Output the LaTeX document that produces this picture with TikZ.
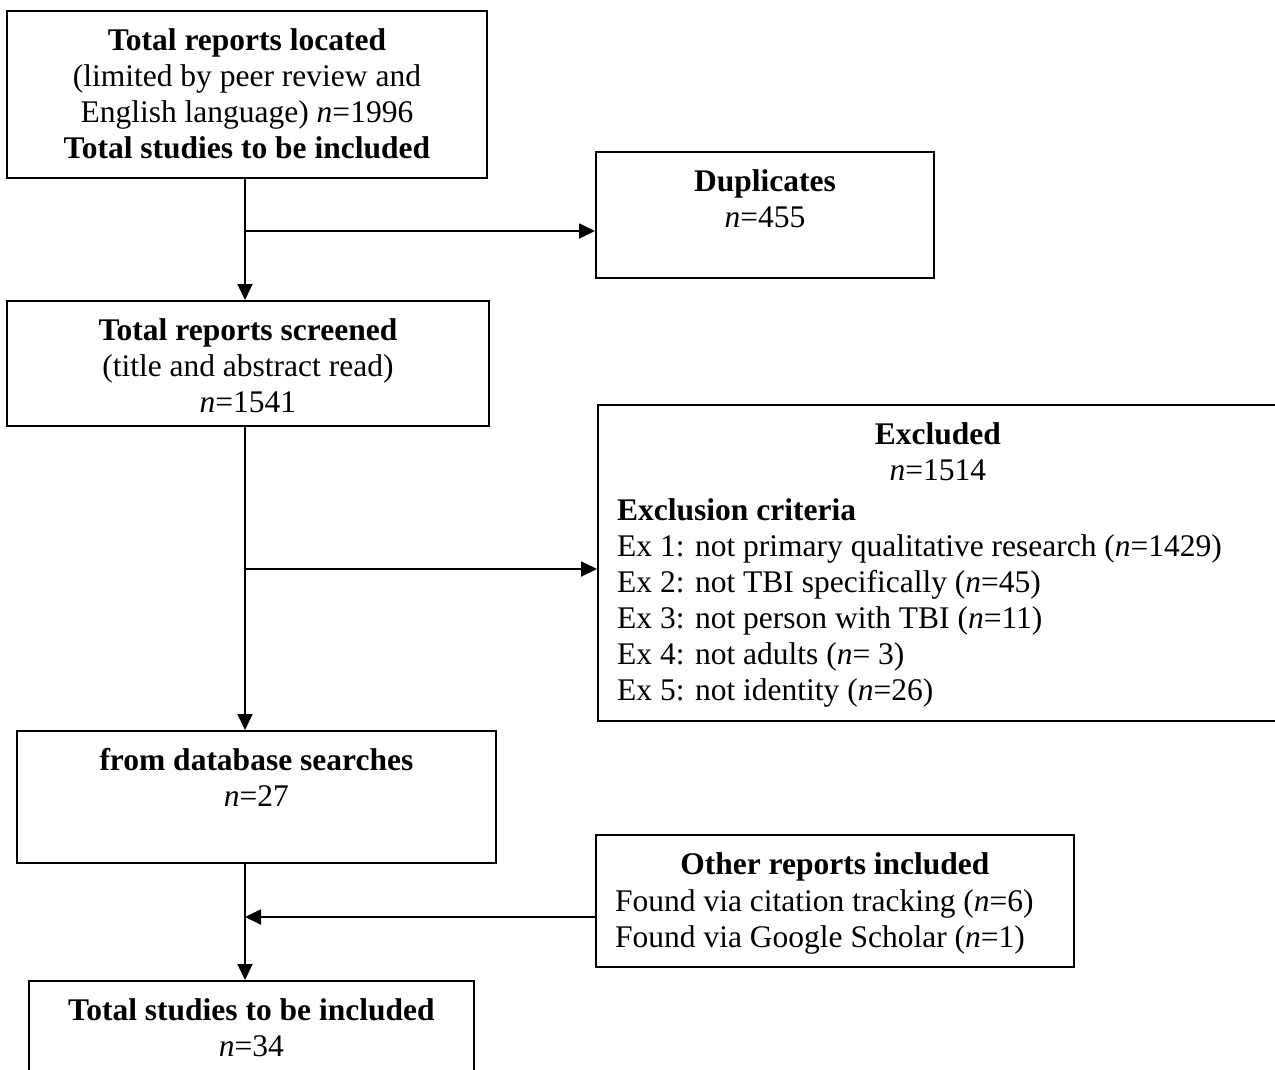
\documentclass[tikz,border=0pt]{standalone}
\usepackage{fontspec}
\setmainfont{Liberation Serif}
\usetikzlibrary{arrows.meta}
\begin{document}
\begin{tikzpicture}[x=1pt,y=-1pt,
 box/.style={draw, line width=1.8pt, anchor=north west, inner sep=0pt},
 txt/.style={inner sep=0pt, font=\fontsize{31.5}{36}\selectfont, align=center, anchor=north},
 ltxt/.style={txt, align=left, anchor=north west},
 arr/.style={line width=1.8pt, -{Triangle[length=16pt,width=15pt]}}]
\useasboundingbox (0,0) rectangle (1275,1069);
\fill[white] (0,0) rectangle (1275,1069);

\node[box, minimum width=480pt, minimum height=167pt] (b1) at (6,10) {};
\node[txt] (t1) at ([yshift=-14.8pt]b1.north) {\strut\textbf{Total reports located}\\(limited by peer review and\\English language) \textit{n}=1996\\\textbf{Total studies to be included}};

\node[box, minimum width=338pt, minimum height=126pt] (dup) at (595,151) {};
\node[txt] (tdup) at ([yshift=-14.8pt]dup.north) {\strut\textbf{Duplicates}\\\textit{n}=455};

\node[box, minimum width=482pt, minimum height=125pt] (b2) at (6,300) {};
\node[txt] (t2) at ([yshift=-14.8pt]b2.north) {\strut\textbf{Total reports screened}\\(title and abstract read)\\\textit{n}=1541};

\node[box, minimum width=680pt, minimum height=316pt] (exc) at (597,404) {};
\node[txt] (texc) at ([yshift=-14.8pt]exc.north) {\strut\textbf{Excluded}\\\textit{n}=1514};
\node[ltxt] (lexc) at (617,494.8) {\strut\textbf{Exclusion criteria}\\Ex 1: not primary qualitative research (\textit{n}=1429)\\Ex 2: not TBI specifically (\textit{n}=45)\\Ex 3: not person with TBI (\textit{n}=11)\\Ex 4: not adults (\textit{n}= 3)\\Ex 5: not identity (\textit{n}=26)};

\node[box, minimum width=479pt, minimum height=132pt] (db) at (16,730) {};
\node[txt] (tdb) at ([yshift=-14.8pt]db.north) {\strut\textbf{from database searches}\\\textit{n}=27};

\node[box, minimum width=478pt, minimum height=132pt] (oth) at (595,834) {};
\node[txt] (toth) at ([yshift=-14.8pt]oth.north) {\strut\textbf{Other reports included}};
\node[ltxt] (loth) at (615,885.8) {\strut Found via citation tracking (\textit{n}=6)\\Found via Google Scholar (\textit{n}=1)};

\node[box, minimum width=445pt, minimum height=120pt] (fin) at (28,980) {};
\node[txt] (tfin) at ([yshift=-14.8pt]fin.north) {\strut\textbf{Total studies to be included}\\\textit{n}=34};

\coordinate (j1) at (245,231);
\coordinate (j2) at (245,569);
\coordinate (j3) at (245,917);
\draw[arr] (b1.south -| j1) -- (b2.north -| j1);
\draw[arr] (j1) -- (j1 -| dup.west);
\draw[arr] (b2.south -| j2) -- (db.north -| j2);
\draw[arr] (j2) -- (j2 -| exc.west);
\draw[arr] (db.south -| j3) -- (fin.north -| j3);
\draw[arr] (oth.west |- j3) -- (j3);
\end{tikzpicture}
\end{document}
